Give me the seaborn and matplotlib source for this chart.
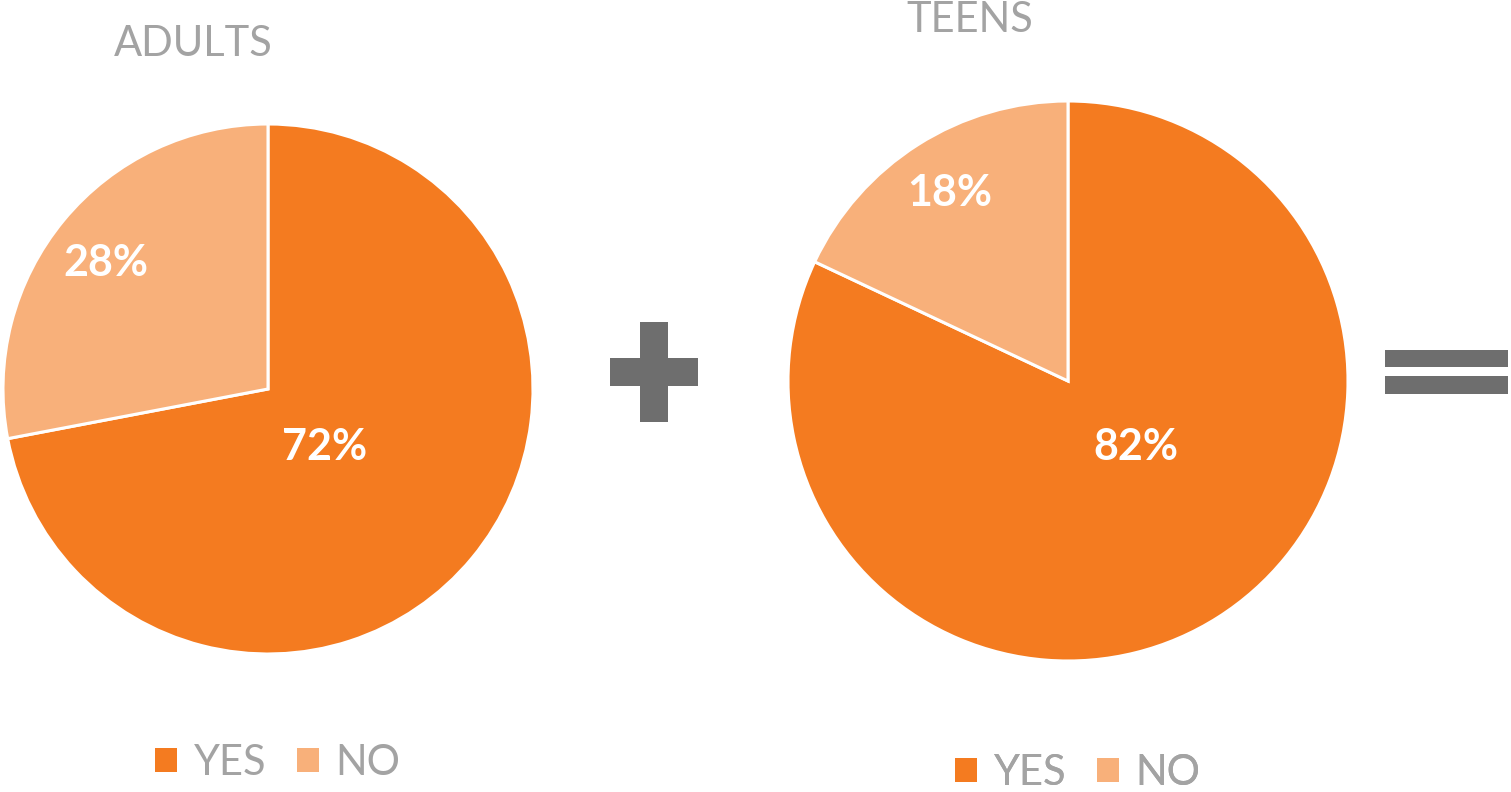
import matplotlib
matplotlib.use("Agg")
import matplotlib.pyplot as plt
import seaborn as sns
from matplotlib.patches import Patch, Rectangle

# data
groups = ["ADULTS", "TEENS"]
answers = ["YES", "NO"]
adults_pct = [72, 28]
teens_pct = [82, 18]

sns.set_theme(style="white")
plt.rcParams['font.family'] = ['Lato', 'DejaVu Sans']

colors = ["#F47B20", "#F8B07A"]
gray_text = "#A3A3A3"
sign_gray = "#6E6E6E"

W, H = 1511, 792
fig = plt.figure(figsize=(W / 100, H / 100), dpi=100)
ax = fig.add_axes([0, 0, 1, 1])

# layout (pixel coords, y measured from top)
pies = [
    dict(vals=adults_pct, center=(268, 389), r=265, title=(193, 44),
         labels=[(325, 447), (106, 263)], legend=(278, 763)),
    dict(vals=teens_pct, center=(1068, 381), r=280, title=(970, 20),
         labels=[(1136, 447), (950, 193)], legend=(1078, 773)),
]

for name, p in zip(groups, pies):
    cx, cy = p["center"]
    ax.pie(p["vals"], colors=colors, startangle=90, counterclock=False,
           center=(cx, H - cy), radius=p["r"],
           wedgeprops=dict(edgecolor="white", linewidth=2.2))
    for v, (lx, ly) in zip(p["vals"], p["labels"]):
        ax.text(lx, H - ly, f"{v}%", color="white", fontsize=31,
                fontweight="bold", ha="center", va="center")
    tx, ty = p["title"]
    ax.text(tx, H - ty, name, color=gray_text, fontsize=30,
            ha="center", va="center")
    handles = [Patch(facecolor=c, edgecolor="none", label=a)
               for c, a in zip(colors, answers)]
    lx, ly = p["legend"]
    leg = ax.legend(handles=handles, ncol=2, loc="center",
                    bbox_to_anchor=(lx, H - ly), bbox_transform=ax.transData,
                    frameon=False, fontsize=30, handlelength=0.52,
                    handleheight=0.52, handletextpad=0.4, columnspacing=0.75,
                    labelcolor=gray_text)
    ax.add_artist(leg)

# plus sign
ax.add_patch(Rectangle((640, H - 422), 28, 100, color=sign_gray, lw=0))
ax.add_patch(Rectangle((610, H - 386), 88, 28, color=sign_gray, lw=0))
# equals sign
ax.add_patch(Rectangle((1385, H - 367), 123, 17, color=sign_gray, lw=0))
ax.add_patch(Rectangle((1385, H - 394), 123, 18, color=sign_gray, lw=0))

ax.set_xlim(0, W)
ax.set_ylim(0, H)
ax.set_aspect("equal")
ax.axis("off")

fig.savefig("out.png", dpi=100, facecolor="white")
